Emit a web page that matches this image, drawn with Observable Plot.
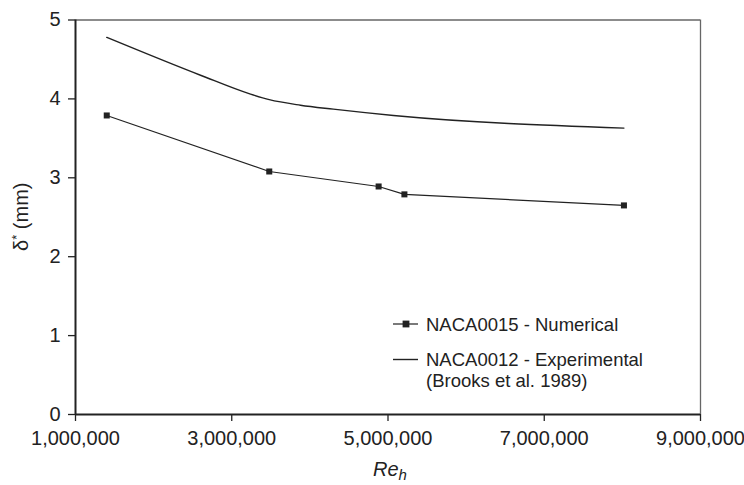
<!DOCTYPE html>
<html>
<head>
<meta charset="utf-8">
<script src="https://cdn.jsdelivr.net/npm/d3@7"></script>
<script src="https://cdn.jsdelivr.net/npm/@observablehq/plot@0.6"></script>
<style>
  html, body { margin: 0; padding: 0; background: #fff; }
  #chart { position: relative; width: 744px; height: 485px; }
</style>
</head>
<body>
<div id="chart"></div>
<script>
// Numerical series (NACA0015)
const reNum = [1400000, 3480000, 4880000, 5210000, 8020000];
const deltaNum = [3.79, 3.08, 2.89, 2.79, 2.65];
// Experimental series (NACA0012, Brooks et al. 1989)
const reExp = [1400000, 2600000, 3240000, 3480000, 3880000, 4300000, 5070000, 8020000];
const deltaExp = [4.78, 4.30, 4.06, 3.99, 3.92, 3.87, 3.79, 3.63];
// Ticks
const xTicks = [1000000, 3000000, 5000000, 7000000, 9000000];
const yTicks = [0, 1, 2, 3, 4, 5];
const legendLabels = ["NACA0015 - Numerical", "NACA0012 - Experimental", "(Brooks et al. 1989)"];

const numData = reNum.map((r, i) => ({re: r, d: deltaNum[i]}));
const expData = reExp.map((r, i) => ({re: r, d: deltaExp[i]}));

const ink = "#222";
const font = "'Liberation Sans', Arial, Helvetica, sans-serif";

const plot = Plot.plot({
  width: 744,
  height: 485,
  marginLeft: 75,
  marginRight: 44,
  marginTop: 19.5,
  marginBottom: 71,
  style: {fontFamily: font, fontSize: "20px", color: ink, background: "#fff"},
  x: {domain: [1000000, 9000000]},
  y: {domain: [0, 5]},
  marks: [
    Plot.ruleY([5], {stroke: "#666", strokeWidth: 1.3}),
    Plot.ruleX([9000000], {stroke: "#666", strokeWidth: 1.3}),
    Plot.axisX({ticks: xTicks, tickFormat: d3.format(","), tickSize: 7, tickPadding: 9, label: null, stroke: ink, strokeWidth: 1.3, fontSize: 20}),
    Plot.axisY({ticks: yTicks, tickFormat: d3.format("d"), tickSize: 7, tickPadding: 8, label: null, stroke: ink, strokeWidth: 1.3, fontSize: 20}),
    Plot.line(expData, {x: "re", y: "d", stroke: ink, strokeWidth: 1.4, curve: "monotone-x"}),
    Plot.line(numData, {x: "re", y: "d", stroke: ink, strokeWidth: 1.2}),
    Plot.dot(numData, {x: "re", y: "d", symbol: "square", r: 3.4, fill: ink, stroke: "none"}),
    Plot.ruleX([1000000], {stroke: ink, strokeWidth: 2}),
    Plot.ruleY([0], {stroke: ink, strokeWidth: 2})
  ]
});

document.getElementById("chart").appendChild(plot);

const svg = d3.select(plot);

// Y axis title
const yl = svg.append("text")
  .attr("transform", "translate(28,216.7) rotate(-90)")
  .attr("text-anchor", "middle")
  .attr("fill", ink)
  .style("font-family", font)
  .style("font-size", "20px");
yl.append("tspan").text("δ");
yl.append("tspan").attr("dy", -7).style("font-size", "13px").text("*");
yl.append("tspan").attr("dy", 7).text(" (mm)");

// X axis title
const xl = svg.append("text")
  .attr("x", 390)
  .attr("y", 476)
  .attr("text-anchor", "middle")
  .attr("fill", ink)
  .style("font-family", font)
  .style("font-size", "20px")
  .style("font-style", "italic");
xl.append("tspan").text("Re");
xl.append("tspan").attr("dy", 4).style("font-size", "15px").text("h");

// Legend
const lg = svg.append("g")
  .attr("text-anchor", "start")
  .style("font-family", font)
  .style("font-size", "18.5px")
  .attr("fill", ink);
lg.append("line").attr("x1", 393).attr("x2", 418).attr("y1", 324).attr("y2", 324).attr("stroke", ink).attr("stroke-width", 1.2);
lg.append("rect").attr("x", 402.6).attr("y", 320.6).attr("width", 6.8).attr("height", 6.8).attr("fill", ink);
lg.append("text").attr("text-anchor", "start").attr("x", 426).attr("y", 331).text(legendLabels[0]);
lg.append("line").attr("x1", 393).attr("x2", 418).attr("y1", 359.5).attr("y2", 359.5).attr("stroke", ink).attr("stroke-width", 1.4);
lg.append("text").attr("text-anchor", "start").attr("x", 426).attr("y", 366).text(legendLabels[1]);
lg.append("text").attr("text-anchor", "start").attr("x", 426).attr("y", 386.5).text(legendLabels[2]);
</script>
</body>
</html>
